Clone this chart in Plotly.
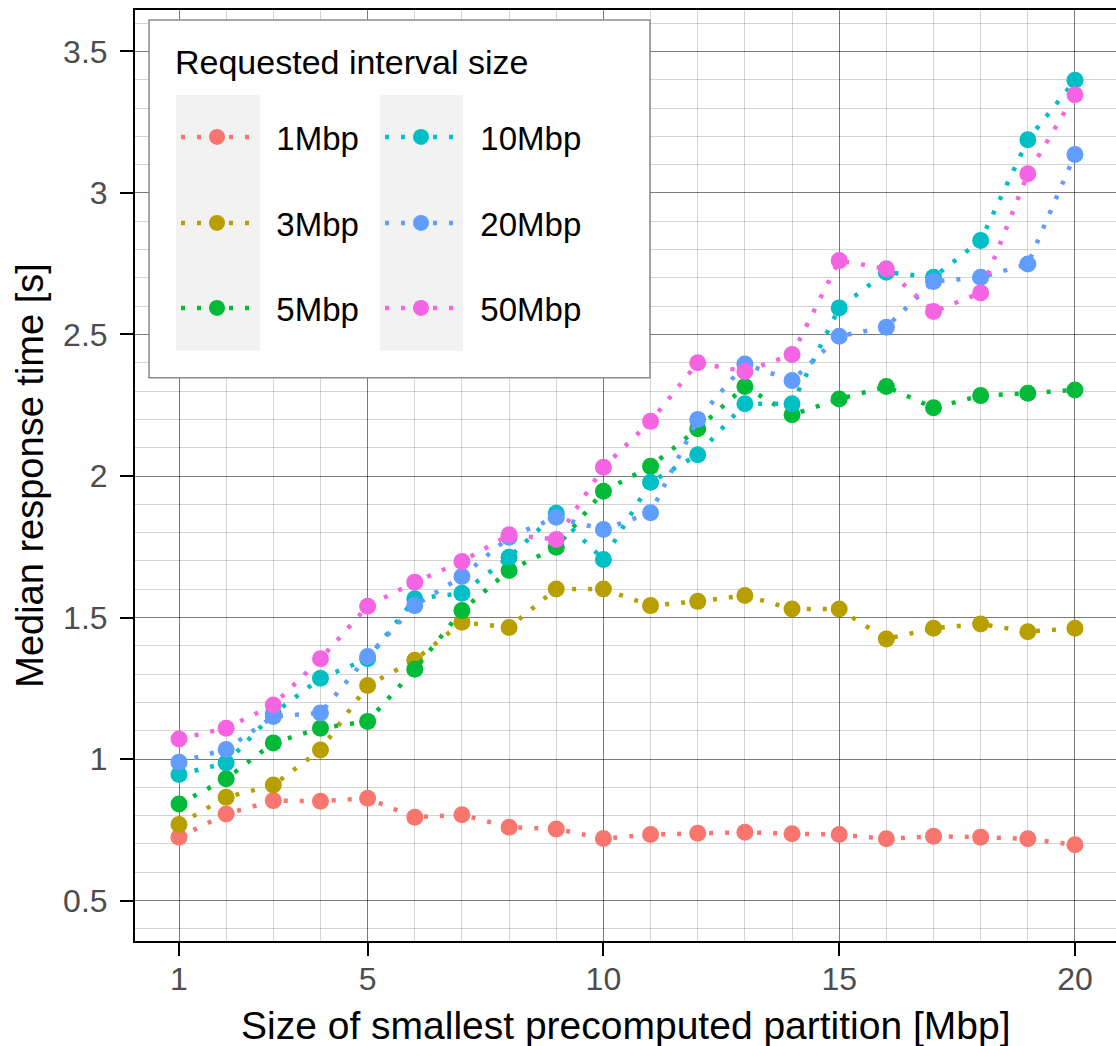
import plotly.graph_objects as go

# ---------------- data ----------------
partition_mbp = [1, 2, 3, 4, 5, 6, 7, 8, 9, 10, 11, 12, 13, 14, 15, 16, 17, 18, 19, 20]

series_names = ["1Mbp", "3Mbp", "5Mbp", "10Mbp", "20Mbp", "50Mbp"]

resp_1mbp = [0.724, 0.806, 0.853, 0.851, 0.861, 0.794, 0.803, 0.759, 0.753, 0.719,
             0.733, 0.738, 0.741, 0.736, 0.733, 0.718, 0.727, 0.724, 0.718, 0.697]
resp_3mbp = [0.769, 0.865, 0.908, 1.032, 1.260, 1.349, 1.483, 1.465, 1.601, 1.601,
             1.542, 1.557, 1.578, 1.530, 1.530, 1.424, 1.462, 1.477, 1.450, 1.462]
resp_5mbp = [0.841, 0.930, 1.057, 1.109, 1.133, 1.317, 1.525, 1.666, 1.748, 1.946,
             2.034, 2.167, 2.316, 2.216, 2.272, 2.316, 2.241, 2.284, 2.292, 2.304]
resp_10mbp = [0.945, 0.986, 1.160, 1.285, 1.354, 1.566, 1.586, 1.713, 1.868, 1.705,
              1.978, 2.075, 2.255, 2.255, 2.594, 2.720, 2.702, 2.832, 3.188, 3.398]
resp_20mbp = [0.989, 1.034, 1.150, 1.163, 1.362, 1.542, 1.645, 1.784, 1.854, 1.811,
              1.870, 2.200, 2.396, 2.337, 2.494, 2.526, 2.687, 2.702, 2.749, 3.136]
resp_50mbp = [1.071, 1.109, 1.191, 1.354, 1.540, 1.625, 1.698, 1.792, 1.776, 2.031,
              2.193, 2.400, 2.369, 2.429, 2.761, 2.732, 2.581, 2.647, 3.068, 3.347]

all_series = [resp_1mbp, resp_3mbp, resp_5mbp, resp_10mbp, resp_20mbp, resp_50mbp]

x_tickvals = [1, 5, 10, 15, 20]
y_tickvals = [0.5, 1, 1.5, 2, 2.5, 3, 3.5]
y_ticktext = ["0.5", "1", "1.5", "2", "2.5", "3", "3.5"]

# ---------------- styling ----------------
colors = ["#F8766D", "#B79F00", "#00BA38", "#00BFC4", "#619CFF", "#F564E3"]
FONT = "Liberation Sans, Arial, sans-serif"
W, H = 1116, 1046
ML, MR, MT, MB = 135, 0, 10, 104.5
PW, PH = W - ML - MR, H - MT - MB


def px_x(p):  # pixel -> paper x
    return (p - ML) / PW


def px_y(p):  # pixel -> paper y
    return (H - MB - p) / PH


fig = go.Figure()

legend_ids = ["legend", "legend2", "legend3", "legend4", "legend5", "legend6"]
for name, vals, col, lid in zip(series_names, all_series, colors, legend_ids):
    fig.add_trace(go.Scatter(
        x=partition_mbp, y=vals, name="\u00a0\u00a0" + name, mode="lines+markers",
        line=dict(color=col, width=4.5, dash="4px,12px"),
        marker=dict(color=col, size=17),
        legend=lid, showlegend=True,
    ))

# legend positions (container px): item origin and row centre
col_origin = [176, 176, 176, 380, 380, 380]
row_center = [137, 223, 308, 137, 223, 308]
leg_common = dict(
    bgcolor="rgba(0,0,0,0)", borderwidth=0, itemwidth=72,
    font=dict(family=FONT, size=33, color="#000000"),
    xref="container", yref="container", xanchor="left", yanchor="middle",
)
layout_legends = {}
for lid, cx, cy in zip(legend_ids, col_origin, row_center):
    layout_legends[lid] = dict(x=cx / W, y=1 - cy / H, **leg_common)

shapes = [
    # legend box
    dict(type="rect", xref="paper", yref="paper", layer="above",
         x0=px_x(149), x1=px_x(650), y0=px_y(378), y1=px_y(20),
         fillcolor="white", line=dict(color="#8c8c8c", width=1.5)),
    # key backgrounds
    dict(type="rect", xref="paper", yref="paper", layer="above",
         x0=px_x(176), x1=px_x(260), y0=px_y(351), y1=px_y(95),
         fillcolor="#F2F2F2", line=dict(width=0)),
    dict(type="rect", xref="paper", yref="paper", layer="above",
         x0=px_x(380), x1=px_x(463), y0=px_y(351), y1=px_y(95),
         fillcolor="#F2F2F2", line=dict(width=0)),
]

annotations = [
    dict(text="Requested interval size", xref="paper", yref="paper",
         x=px_x(173), y=px_y(62), xanchor="left", yanchor="middle",
         showarrow=False, font=dict(family=FONT, size=34, color="#000000")),
    dict(text="Size of smallest precomputed partition [Mbp]", xref="paper", yref="paper",
         x=px_x(626), y=px_y(1026), xanchor="center", yanchor="middle",
         showarrow=False, font=dict(family=FONT, size=39, color="#000000")),
    dict(text="Median response time [s]", xref="paper", yref="paper", textangle=-90,
         x=px_x(30), y=px_y(476), xanchor="center", yanchor="middle",
         showarrow=False, font=dict(family=FONT, size=38, color="#000000")),
]

axis_common = dict(
    showline=True, linecolor="#000000", linewidth=2, mirror=True,
    ticks="outside", ticklen=13, tickwidth=2, tickcolor="#000000",
    showgrid=True, gridcolor="rgba(0,0,0,0.42)", gridwidth=1,
    zeroline=False, automargin=False,
    tickfont=dict(family=FONT, size=32, color="#4D4D4D"),
)

fig.update_layout(
    width=W, height=H,
    margin=dict(l=ML, r=MR, t=MT, b=MB, autoexpand=False),
    paper_bgcolor="white", plot_bgcolor="white",
    font=dict(family=FONT, color="#000000"),
    xaxis=dict(
        range=[0.067, 20.87], tickmode="array", tickvals=x_tickvals,
        ticklabelstandoff=-4,
        minor=dict(dtick=1, tick0=0, showgrid=True,
                   gridcolor="rgba(0,0,0,0.17)", gridwidth=1.2, ticks=""),
        **axis_common,
    ),
    yaxis=dict(
        range=[0.357, 3.6465], tickmode="array", tickvals=y_tickvals, ticktext=y_ticktext,
        ticklabelstandoff=6,
        minor=dict(dtick=0.1, tick0=0, showgrid=True,
                   gridcolor="rgba(0,0,0,0.17)", gridwidth=1.2, ticks=""),
        **axis_common,
    ),
    shapes=shapes,
    annotations=annotations,
    **layout_legends,
)

fig.write_html("out.html", config={"displayModeBar": False},
               post_script="document.body.style.margin='0px';")
